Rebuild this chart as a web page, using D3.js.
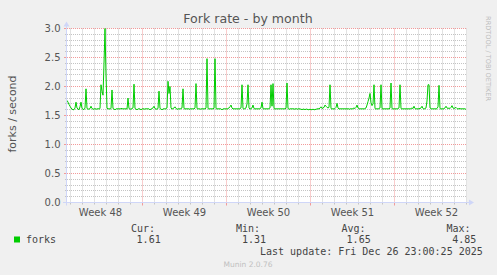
<!DOCTYPE html>
<html><head><meta charset="utf-8">
<script src="https://cdn.jsdelivr.net/npm/d3@7"></script>
<style>html,body{margin:0;padding:0;background:#f0f0f0;} svg{display:block;}</style>
</head><body>
<svg id="c" width="497" height="275"></svg>
<script>
const title = "Fork rate - by month";
const yLabel = "forks / second";
const seriesName = "forks";
const startTime = "2025-11-23T17:00:00Z";
const spanHours = 800;
const stepHours = 2;
// 2-hour averages, 20 per row
const forks = [
1.76,1.73,1.69,1.66,1.63,1.61,1.60,1.60,1.63,1.73,1.63,1.61,1.60,1.65,1.73,1.62,1.61,1.60,1.63,1.96,
1.62,1.61,1.61,1.62,1.66,1.62,1.61,1.61,1.62,1.61,1.61,1.62,1.61,1.62,2.03,1.92,1.85,2.40,3.00,2.20,
1.63,1.61,1.62,1.61,1.62,1.94,1.62,1.61,1.60,1.61,1.62,1.61,1.62,1.61,1.62,1.62,1.61,1.62,1.61,1.62,
1.61,1.80,1.62,1.61,1.61,1.62,1.63,2.04,1.62,1.61,1.60,1.61,1.62,1.61,1.60,1.61,1.62,1.61,1.61,1.62,
1.61,1.62,1.61,1.60,1.61,1.62,1.63,1.66,1.62,1.61,1.61,1.62,1.92,1.62,1.61,1.60,1.61,1.62,1.61,1.62,
1.63,2.09,1.88,2.00,1.63,1.61,1.62,1.63,1.65,1.62,1.61,1.61,1.62,1.61,1.62,1.63,1.96,1.62,1.61,1.62,
1.61,1.62,1.61,1.61,1.62,1.61,1.62,1.61,1.63,2.05,1.62,1.61,1.62,1.61,1.61,1.62,1.61,1.62,1.61,1.63,
2.48,1.62,1.61,1.62,1.61,1.62,1.61,1.63,2.48,1.62,1.61,1.62,1.61,1.62,1.61,1.60,1.61,1.62,1.61,1.62,
1.61,1.62,1.63,1.65,1.68,1.63,1.61,1.62,1.61,1.62,1.61,1.62,1.61,1.62,1.63,2.03,1.62,1.61,1.62,1.63,
1.70,2.03,1.63,1.61,1.62,1.63,1.68,1.62,1.61,1.62,1.61,1.62,1.61,1.62,1.63,1.73,1.62,1.61,1.62,1.61,
1.62,1.61,1.62,1.63,2.03,1.66,2.05,1.62,1.61,1.62,1.61,1.62,1.61,1.62,1.61,1.62,1.61,1.62,1.61,1.63,
2.06,1.62,1.61,1.61,1.62,1.61,1.62,1.61,1.61,1.62,1.61,1.61,1.62,1.61,1.61,1.60,1.61,1.61,1.60,1.61,
1.61,1.60,1.60,1.61,1.60,1.60,1.61,1.60,1.60,1.61,1.61,1.62,1.61,1.63,1.65,1.62,1.63,1.64,1.68,1.66,
1.64,1.63,1.64,2.03,1.62,1.61,1.62,1.61,1.62,1.64,1.71,1.63,1.61,1.62,1.61,1.62,1.61,1.62,1.61,1.62,
1.61,1.62,1.61,1.61,1.62,1.61,1.62,1.63,1.62,1.64,1.68,1.63,1.62,1.61,1.62,1.61,1.62,1.61,1.62,1.63,
1.68,1.74,1.80,1.88,1.72,1.67,1.70,2.03,1.62,1.61,1.62,1.61,1.62,1.63,2.03,1.62,1.61,1.62,1.61,1.62,
1.61,1.62,1.61,1.63,2.06,1.62,1.61,1.62,1.61,1.62,1.61,1.62,1.63,2.03,1.62,1.61,1.62,1.61,1.62,1.61,
1.62,1.61,1.62,1.61,1.62,1.63,1.62,1.66,1.62,1.61,1.62,1.61,1.62,1.62,1.63,1.66,1.62,1.61,1.62,1.63,
1.75,2.03,2.03,1.63,1.62,1.61,1.62,1.61,1.62,1.61,1.62,1.65,2.02,1.62,1.61,1.62,1.61,1.62,1.63,1.66,
1.63,1.62,1.63,1.62,1.64,1.67,1.63,1.62,1.63,1.64,1.62,1.61,1.62,1.62,1.61,1.62,1.61,1.62,1.61,1.61
];
const yTicks = [0.0, 0.5, 1.0, 1.5, 2.0, 2.5, 3.0];
const yMinorStep = 0.1;
const weekLabels = ["Week 48", "Week 49", "Week 50", "Week 51", "Week 52"];
const weekLabelTimes = ["2025-11-26T12:00:00Z", "2025-12-03T12:00:00Z", "2025-12-10T12:00:00Z", "2025-12-17T12:00:00Z", "2025-12-24T12:00:00Z"];
const legendHeads = ["Cur:", "Min:", "Avg:", "Max:"];
const legendValues = ["1.61", "1.31", "1.65", "4.85"];
const lastUpdate = "Last update: Fri Dec 26 23:00:25 2025";
const footer = "Munin 2.0.76";
const watermark = "RRDTOOL / TOBI OETIKER";

const svg = d3.select("#c");
const t0 = new Date(startTime);
const t1 = new Date(t0.getTime() + spanHours * 3600e3);
const x = d3.scaleUtc().domain([t0, t1]).range([67, 467]);
const y = d3.scaleLinear().domain([0, 3]).range([202.5, 28.5]);
const X0 = 67, X1 = 467, Y0 = 202.5, Y1 = 28.5;

svg.append("rect").attr("width", 497).attr("height", 275).attr("fill", "#f0f0f0");
svg.append("rect").attr("x", X0).attr("y", Y1).attr("width", X1 - X0).attr("height", Y0 - Y1).attr("fill", "#ffffff");

const minorCol = "#c4c4c4", majorCol = "#f29a9a", axisCol = "#cfd6f8";
const sans = "DejaVu Sans", mono = "DejaVu Sans Mono";

// horizontal minor grid
const yMinor = d3.range(0, 31).map(k => k * yMinorStep).filter(v => !yTicks.some(t => Math.abs(t - v) < 1e-6));
const g = svg.append("g");
yMinor.forEach(v => {
  const yy = Math.round(y(v) - 0.5) + 0.5;
  g.append("line").attr("x1", X0 - 2).attr("x2", X0).attr("y1", yy).attr("y2", yy).attr("stroke", minorCol);
  g.append("line").attr("x1", X0).attr("x2", X1).attr("y1", yy).attr("y2", yy)
    .attr("stroke", minorCol).attr("stroke-dasharray", "1,1");
});
// vertical minor grid (days)
const days = d3.utcDay.range(t0, t1);
days.forEach(d => {
  if (d.getUTCDay() === 0) return;
  const xx = Math.round(x(d) - 0.5) + 0.5;
  g.append("line").attr("x1", xx).attr("x2", xx).attr("y1", Y0).attr("y2", Y0 + 2).attr("stroke", minorCol);
  g.append("line").attr("x1", xx).attr("x2", xx).attr("y1", Y1).attr("y2", Y0)
    .attr("stroke", minorCol).attr("stroke-dasharray", "1,1");
});
// major horizontal
yTicks.forEach(v => {
  const yy = Math.round(y(v) - 0.5) + 0.5;
  g.append("line").attr("x1", X0 - 3).attr("x2", X0).attr("y1", yy).attr("y2", yy).attr("stroke", majorCol);
  g.append("line").attr("x1", X0).attr("x2", X1).attr("y1", yy).attr("y2", yy)
    .attr("stroke", majorCol).attr("stroke-dasharray", "1,1");
  svg.append("text").attr("x", 60.5).attr("y", yy + 3.6).attr("text-anchor", "end")
    .attr("font-family", sans).attr("font-size", 10).attr("fill", "#555").text(v.toFixed(1));
});
// major vertical (weeks)
days.filter(d => d.getUTCDay() === 0).forEach(d => {
  const xx = Math.round(x(d) - 0.5) + 0.5;
  g.append("line").attr("x1", xx).attr("x2", xx).attr("y1", Y0).attr("y2", Y0 + 3).attr("stroke", majorCol);
  g.append("line").attr("x1", xx).attr("x2", xx).attr("y1", Y1).attr("y2", Y0)
    .attr("stroke", majorCol).attr("stroke-dasharray", "1,1");
});
weekLabels.forEach((lab, i) => {
  svg.append("text").attr("x", x(new Date(weekLabelTimes[i]))).attr("y", 216)
    .attr("text-anchor", "middle").attr("font-family", sans).attr("font-size", 10)
    .attr("fill", "#555").text(lab);
});

// data line
const line = d3.line()
  .x((d, i) => x(new Date(t0.getTime() + i * stepHours * 3600e3)))
  .y(d => y(d));
svg.append("path").datum(forks).attr("d", line).attr("fill", "none")
  .attr("stroke", "#00cc00").attr("stroke-width", 1).attr("stroke-linejoin", "round");

// axes
svg.append("line").attr("x1", X0 - 4).attr("x2", X1 + 3).attr("y1", Y0).attr("y2", Y0).attr("stroke", axisCol);
svg.append("line").attr("x1", X0 - 0.5).attr("x2", X0 - 0.5).attr("y1", Y0 + 3).attr("y2", Y1 - 4).attr("stroke", axisCol);
svg.append("path").attr("d", `M${X1 + 2},${Y0 - 3} L${X1 + 7},${Y0} L${X1 + 2},${Y0 + 3} Z`).attr("fill", axisCol);
svg.append("path").attr("d", `M${X0 - 3.5},${Y1 - 2} L${X0 - 0.5},${Y1 - 7} L${X0 + 2.5},${Y1 - 2} Z`).attr("fill", axisCol);

// titles
svg.append("text").attr("x", 248).attr("y", 22.5).attr("text-anchor", "middle")
  .attr("font-family", sans).attr("font-size", 12.6).attr("fill", "#555").text(title);
svg.append("text").attr("transform", "translate(15.5,114) rotate(-90)").attr("text-anchor", "middle")
  .attr("font-family", sans).attr("font-size", 11).attr("fill", "#555").text(yLabel);
svg.append("text").attr("transform", "translate(485.5,58.5) rotate(90)").attr("text-anchor", "middle")
  .attr("font-family", sans).attr("font-size", 6.6).attr("fill", "#bdbdbd").text(watermark);

// legend
const headX = [131, 236, 341.5, 446.5];
const valX = [136.6, 242, 346.6, 452.2];
legendHeads.forEach((h, i) => {
  svg.append("text").attr("x", headX[i]).attr("y", 231.5).attr("font-family", mono)
    .attr("font-size", 10).attr("fill", "#444").text(h);
  svg.append("text").attr("x", valX[i]).attr("y", 242.5).attr("font-family", mono)
    .attr("font-size", 10).attr("fill", "#444").text(legendValues[i]);
});
svg.append("rect").attr("x", 14).attr("y", 236.5).attr("width", 6).attr("height", 6).attr("fill", "#00cc00");
svg.append("text").attr("x", 26).attr("y", 242.5).attr("font-family", mono)
  .attr("font-size", 10).attr("fill", "#444").text(seriesName);
svg.append("text").attr("x", 260).attr("y", 255).attr("font-family", mono)
  .attr("font-size", 10).attr("fill", "#444").text(lastUpdate);
svg.append("text").attr("x", 248).attr("y", 267).attr("text-anchor", "middle").attr("font-family", sans)
  .attr("font-size", 7.5).attr("fill", "#c0c0c0").text(footer);
</script>
</body></html>
